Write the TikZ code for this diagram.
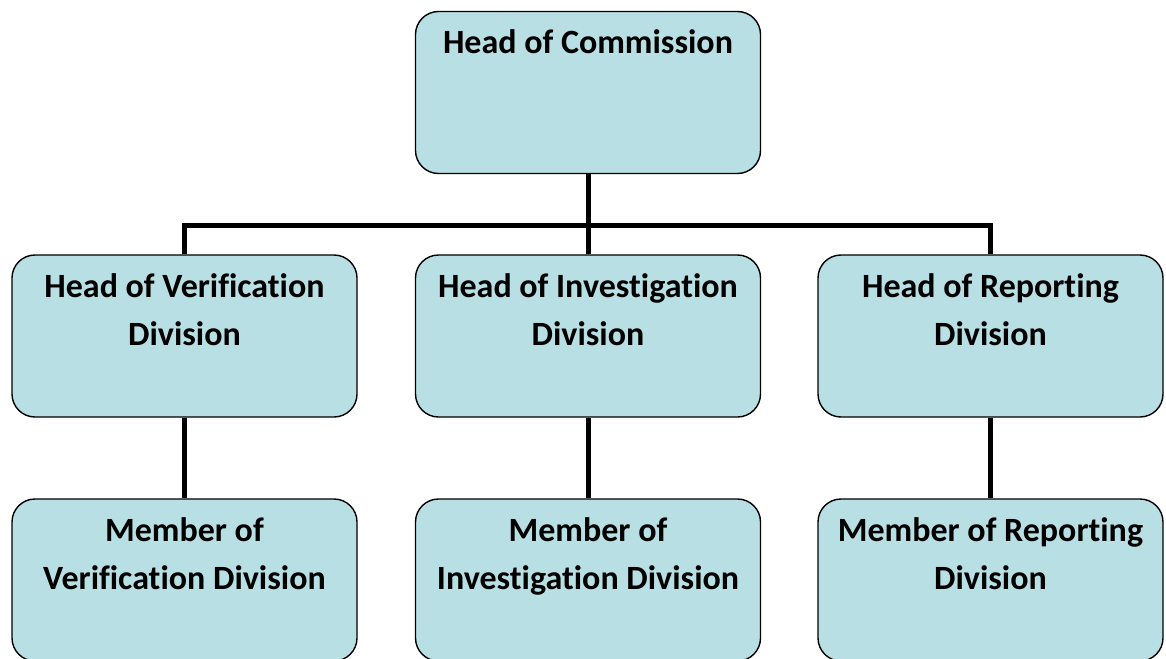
\documentclass[tikz,border=0pt]{standalone}
\usepackage{fontspec}
\setmainfont{Carlito}[Ligatures={NoCommon,NoRequired,NoContextual}]
\definecolor{boxfill}{HTML}{B8DFE4}
\newcommand{\boxtext}[1]{\parbox[c][162pt][t]{340pt}{\centering\fontsize{34pt}{48pt}\selectfont\bfseries\rule{0pt}{42pt}#1}}
\begin{document}
\begin{tikzpicture}[x=1pt,y=-1pt,
  orgbox/.style={draw=black, fill=boxfill, line width=1.4pt, rounded corners=23pt,
    minimum width=345pt, minimum height=162pt, inner sep=0pt},
  link/.style={line width=5pt, line join=miter}]
\useasboundingbox (0,0) rectangle (1166,658);
\node[orgbox] (hc) at (588,92.5) {\boxtext{Head of Commission}};
\node[orgbox] (hv) at (184.5,336) {\boxtext{Head of Verification\\Division}};
\node[orgbox] (hi) at (588,336) {\boxtext{Head of Investigation\\Division}};
\node[orgbox] (hr) at (990.5,336) {\boxtext{Head of Reporting\\Division}};
\node[orgbox] (mv) at (184.5,580) {\boxtext{Member of\\Verification Division}};
\node[orgbox] (mi) at (588,580) {\boxtext{Member of\\Investigation Division}};
\node[orgbox] (mr) at (990.5,580) {\boxtext{Member of Reporting\\Division}};
\coordinate (bus) at (588,225.5);
\draw[link] (hc.south) -- (hc.south |- bus);
\draw[link] (hv.north) -- (hv.north |- bus) -- (hr.north |- bus) -- (hr.north);
\draw[link] (hi.north) -- (hi.north |- bus);
\draw[link] (hv.south) -- (mv.north);
\draw[link] (hi.south) -- (mi.north);
\draw[link] (hr.south) -- (mr.north);
\end{tikzpicture}
\end{document}
